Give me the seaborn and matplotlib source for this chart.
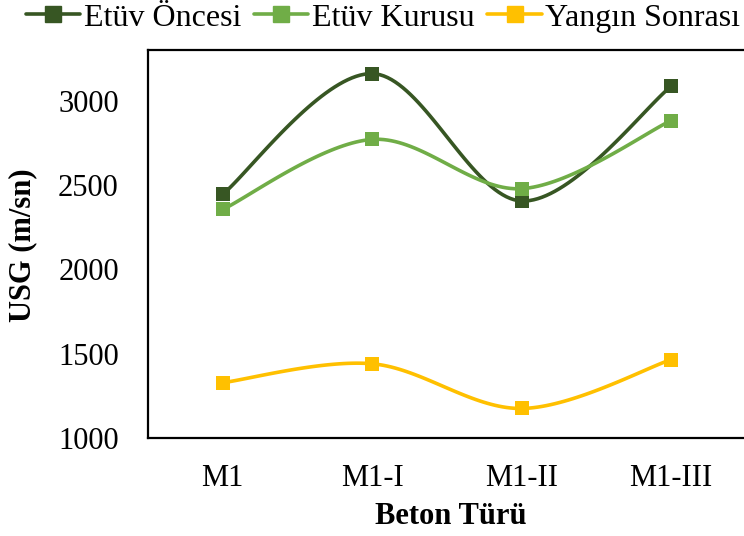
import numpy as np
import pandas as pd
import matplotlib
matplotlib.use("Agg")
import matplotlib.pyplot as plt
import seaborn as sns
from matplotlib.lines import Line2D

categories = ["M1", "M1-I", "M1-II", "M1-III"]
etuv_oncesi = [2445, 3160, 2405, 3085]
etuv_kurusu = [2355, 2770, 2478, 2882]
yangin_sonrasi = [1328, 1440, 1175, 1465]

series_names = ["Etüv Öncesi", "Etüv Kurusu", "Yangın Sonrası"]
series_values = [etuv_oncesi, etuv_kurusu, yangin_sonrasi]
colors = ["#375623", "#70AD47", "#FFC000"]

sns.set_theme(style="white")
plt.rcParams["font.family"] = ["Liberation Serif", "DejaVu Serif"]
plt.rcParams["text.color"] = "black"
plt.rcParams["axes.labelcolor"] = "black"


def smooth(x, y, n=40):
    """Cubic Bezier smoothing with Catmull-Rom style control points."""
    x = np.asarray(x, float)
    y = np.asarray(y, float)
    px = np.concatenate([[x[0]], x, [x[-1]]])
    py = np.concatenate([[y[0]], y, [y[-1]]])
    xs, ys = [], []
    t = np.linspace(0, 1, n)
    for i in range(1, len(px) - 2):
        p0 = np.array([px[i], py[i]])
        p3 = np.array([px[i + 1], py[i + 1]])
        c1 = p0 + (np.array([px[i + 1], py[i + 1]]) - np.array([px[i - 1], py[i - 1]])) / 6
        c2 = p3 - (np.array([px[i + 2], py[i + 2]]) - np.array([px[i], py[i]])) / 6
        b = ((1 - t)[:, None] ** 3 * p0 + 3 * ((1 - t) ** 2 * t)[:, None] * c1
             + 3 * ((1 - t) * t ** 2)[:, None] * c2 + (t ** 3)[:, None] * p3)
        xs.extend(b[:, 0])
        ys.extend(b[:, 1])
    return np.array(xs), np.array(ys)


fig = plt.figure(figsize=(7.44, 5.36), dpi=100)
ax = fig.add_axes([148 / 744, 1 - 438 / 536, 598 / 744, 388 / 536])

xpos = np.arange(len(categories))
for name, vals, c in zip(series_names, series_values, colors):
    sx, sy = smooth(xpos, vals)
    curve = pd.DataFrame({"x": sx, "y": sy})
    sns.lineplot(data=curve, x="x", y="y", ax=ax, color=c, linewidth=2.6,
                 sort=False, estimator=None, zorder=2)
    pts = pd.DataFrame({"x": xpos, "y": vals})
    sns.scatterplot(data=pts, x="x", y="y", ax=ax, color=c, marker="s",
                    s=115, edgecolor=c, linewidth=0, zorder=3)

ax.set_xlim(-0.5, 3.5)
ax.set_ylim(1000, 3300)
ax.set_yticks([1000, 1500, 2000, 2500, 3000])
ax.set_xticks(xpos)
ax.set_xticklabels(categories)
ax.tick_params(axis="both", direction="out", length=7, width=1.5,
               labelsize=22, colors="black")
ax.tick_params(axis="y", pad=14)
ax.tick_params(axis="x", pad=12)
for s in ax.spines.values():
    s.set_color("black")
    s.set_linewidth(1.6)

ax.set_xlabel("Beton Türü", fontsize=22, fontweight="bold")
ax.set_ylabel("USG (m/sn)", fontsize=22, fontweight="bold")
ax.xaxis.set_label_coords((451 - 148) / 598, -(516 - 438) / 388)
ax.yaxis.set_label_coords((23 - 148) / 598, (438 - 245) / 388)
ax.xaxis.label.set_verticalalignment("center")
ax.yaxis.label.set_verticalalignment("center")

handles = [Line2D([0], [0], color=c, linewidth=2.6, marker="s", markersize=11)
           for c in colors]
fig.legend(handles, series_names, loc="center", bbox_to_anchor=(383 / 744, 1 - 18 / 536),
           ncol=3, frameon=False, fontsize=23, handlelength=1.7,
           handletextpad=0.12, columnspacing=0.4, borderpad=0, borderaxespad=0)

fig.savefig("out.png", dpi=100)
